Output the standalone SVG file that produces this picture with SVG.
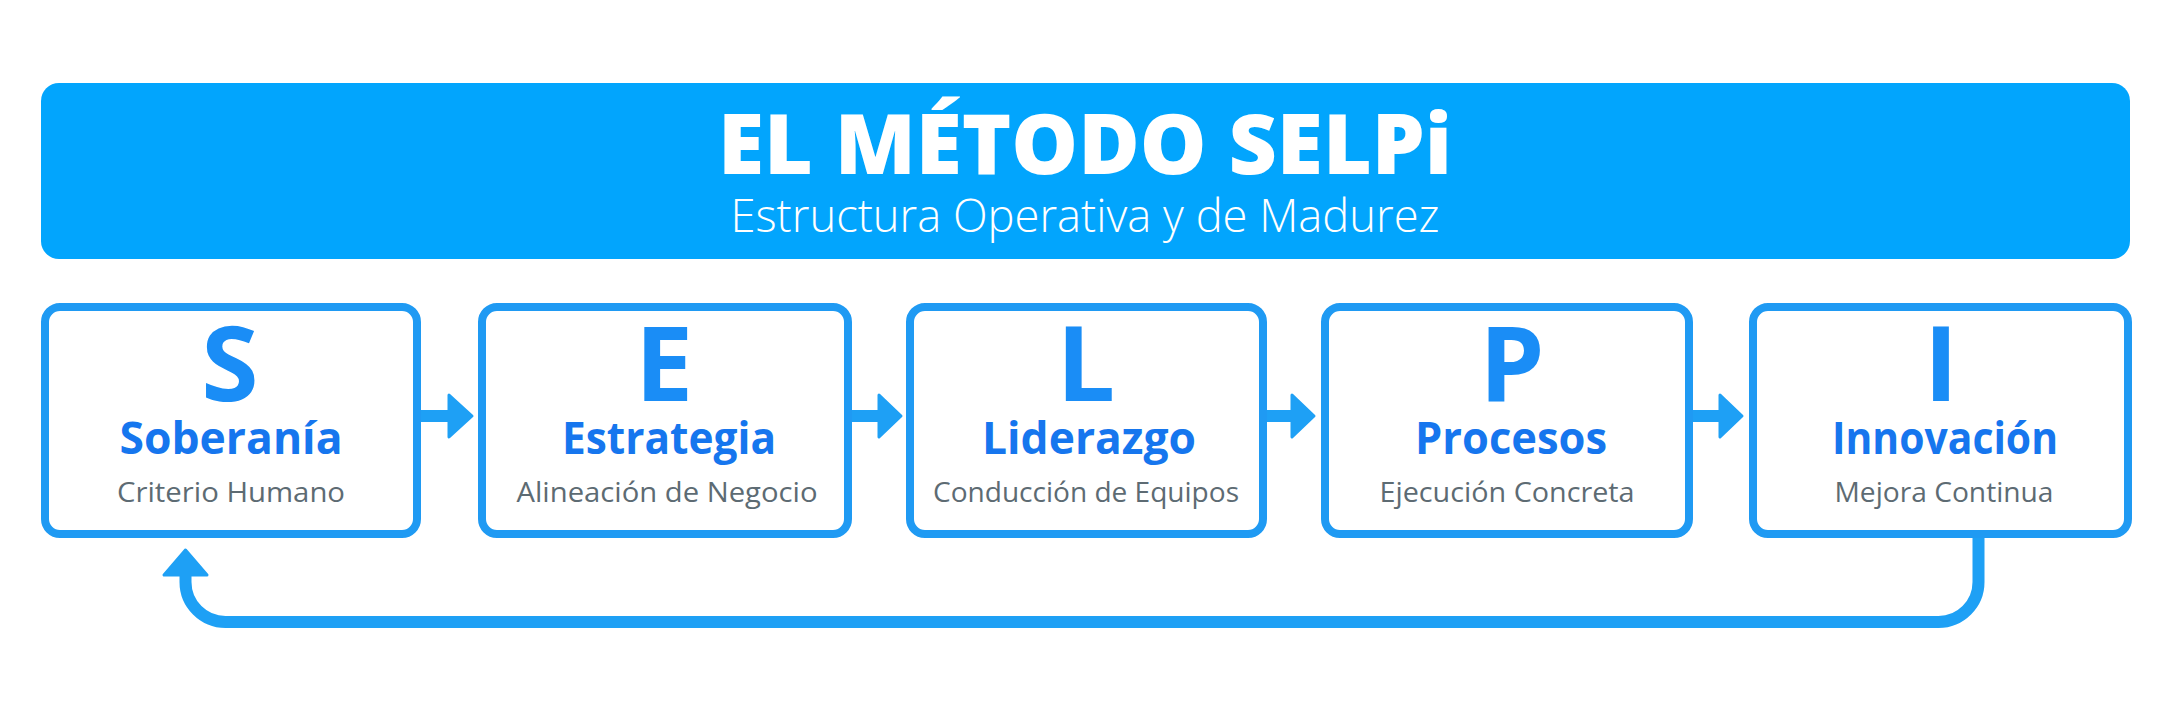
<svg xmlns="http://www.w3.org/2000/svg" width="2171" height="724" viewBox="0 0 2171 724">
<style>
.box{fill:#ffffff;stroke:#1F9AF3;stroke-width:8}
.letter{font-family:"Open Sans","Liberation Sans",sans-serif;font-weight:700;font-size:104px;fill:#1A8DF6;text-anchor:middle}
.name{font-family:"Open Sans","Liberation Sans",sans-serif;font-weight:700;font-size:44px;fill:#1676EE;text-anchor:middle}
.sub{font-family:"Open Sans","Liberation Sans",sans-serif;font-weight:400;font-size:28px;fill:#5D6B73;text-anchor:middle}
.title{font-family:"Open Sans","Liberation Sans",sans-serif;font-weight:800;font-size:84px;fill:#ffffff;text-anchor:middle}
.subtitle{font-family:"Open Sans","Liberation Sans",sans-serif;font-weight:300;font-size:46px;fill:#ffffff;text-anchor:middle}
.line{fill:none;stroke:#1EA0F5;stroke-width:12}
.head{fill:#1EA0F5;stroke:#1EA0F5;stroke-width:3;stroke-linejoin:round}
</style>
<rect width="2171" height="724" fill="#ffffff"/>
<g id="header">
<rect x="41" y="83" width="2089" height="176" rx="18" fill="#02A5FD"/>
<text class="title" x="1085" y="174" textLength="734" lengthAdjust="spacingAndGlyphs">EL MÉTODO SELPi</text>
<text class="subtitle" x="1085" y="232" textLength="709" lengthAdjust="spacingAndGlyphs">Estructura Operativa y de Madurez</text>
</g>
<g id="connectors">
<line class="line" x1="421" y1="416" x2="450" y2="416"/>
<polygon class="head" points="449,395 472,416 449,437"/>
<line class="line" x1="852" y1="416" x2="880" y2="416"/>
<polygon class="head" points="879,395 901,416 879,437"/>
<line class="line" x1="1267" y1="416" x2="1293" y2="416"/>
<polygon class="head" points="1292,395 1314,416 1292,437"/>
<line class="line" x1="1693" y1="416" x2="1721" y2="416"/>
<polygon class="head" points="1720,395 1742,416 1720,437"/>
<path class="line" d="M1978.5 538 V582 A40 40 0 0 1 1938.5 622 H225.5 A40 40 0 0 1 185.5 582 V574"/>
<polygon class="head" points="185.5,550 164,575 207,575"/>
</g>
<g id="node-s">
<rect class="box" x="45" y="307" width="372" height="227" rx="15"/>
<text class="letter" x="230" y="401">S</text>
<text class="name" x="231" y="454" textLength="223" lengthAdjust="spacingAndGlyphs">Soberanía</text>
<text class="sub" x="231" y="502" textLength="228" lengthAdjust="spacingAndGlyphs">Criterio Humano</text>
</g>
<g id="node-e">
<rect class="box" x="482" y="307" width="366" height="227" rx="15"/>
<text class="letter" x="664" y="401">E</text>
<text class="name" x="669" y="454" textLength="214" lengthAdjust="spacingAndGlyphs">Estrategia</text>
<text class="sub" x="667" y="502" textLength="301" lengthAdjust="spacingAndGlyphs">Alineación de Negocio</text>
</g>
<g id="node-l">
<rect class="box" x="910" y="307" width="353" height="227" rx="15"/>
<text class="letter" x="1086" y="401">L</text>
<text class="name" x="1089" y="454" textLength="214" lengthAdjust="spacingAndGlyphs">Liderazgo</text>
<text class="sub" x="1086" y="502" textLength="306" lengthAdjust="spacingAndGlyphs">Conducción de Equipos</text>
</g>
<g id="node-p">
<rect class="box" x="1325" y="307" width="364" height="227" rx="15"/>
<text class="letter" x="1512" y="401">P</text>
<text class="name" x="1511" y="454" textLength="192" lengthAdjust="spacingAndGlyphs">Procesos</text>
<text class="sub" x="1507" y="502" textLength="255" lengthAdjust="spacingAndGlyphs">Ejecución Concreta</text>
</g>
<g id="node-i">
<rect class="box" x="1753" y="307" width="375" height="227" rx="15"/>
<text class="letter" x="1941" y="401">I</text>
<text class="name" x="1945" y="454" textLength="226" lengthAdjust="spacingAndGlyphs">Innovación</text>
<text class="sub" x="1944" y="502" textLength="219" lengthAdjust="spacingAndGlyphs">Mejora Continua</text>
</g>
</svg>
